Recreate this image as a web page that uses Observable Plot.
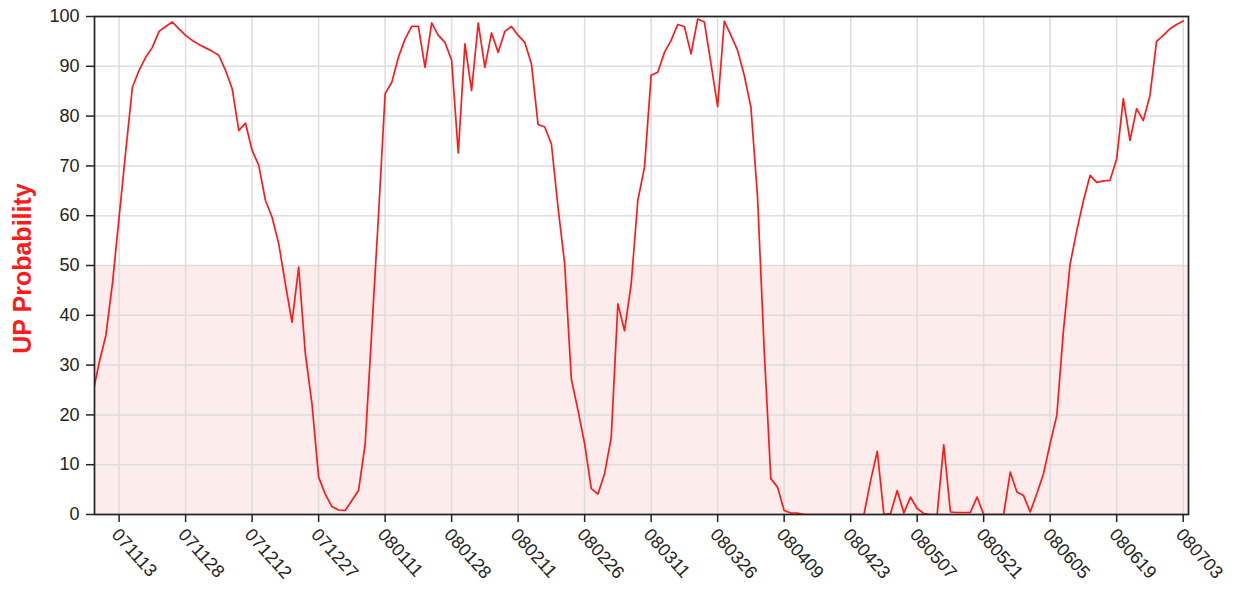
<!DOCTYPE html>
<html><head><meta charset="utf-8">
<script src="https://cdn.jsdelivr.net/npm/d3@7"></script>
<script src="https://cdn.jsdelivr.net/npm/@observablehq/plot@0.6"></script>
<style>
body{margin:0;background:#fff;}
#chart{position:relative;width:1235px;height:591px;}
</style></head><body><div id="chart"></div>
<script>
// Tick labels (trading-day index every 10 days)
const tickLabels = ["071113","071128","071212","071227","080111","080128","080211","080226","080311","080326","080409","080423","080507","080521","080605","080619","080703"];
const tickIndex = [0,10,20,30,40,50,60,70,80,90,100,110,120,130,140,150,160];
const yTicks = [0,10,20,30,40,50,60,70,80,90,100];
// UP probability per trading day, starting at index firstIndex
const firstIndex = -4;
const upProb = [
  24, 30.5, 35.9, 46.4,
  59.7, 73, 85.8, 89.2, 91.8, 93.8, 97, 98, 98.9, 97.5,
  96.2, 95.2, 94.4, 93.7, 93, 92.2, 89.2, 85.5, 77.1, 78.6,
  73.1, 70.1, 63.1, 59.7, 54.4, 46.3, 38.6, 49.7, 32.3, 22.2,
  7.5, 4.1, 1.6, 0.9, 0.8, 2.8, 4.8, 14.2, 37, 60,
  84.5, 86.8, 91.8, 95.5, 98, 98, 89.8, 98.7, 96.2, 94.8,
  91.2, 72.6, 94.5, 85.1, 98.7, 89.8, 96.7, 92.8, 97, 98,
  96.2, 94.8, 90.5, 78.3, 77.8, 74.4, 61.7, 50.3, 27.2, 20.9,
  14.2, 5.2, 4.1, 8.2, 15.5, 42.3, 36.9, 46.3, 63.1, 69.7,
  88.2, 88.8, 92.8, 95.2, 98.4, 98, 92.5, 99.5, 98.9, 90.5,
  81.9, 99.1, 96.2, 93.2, 88.2, 81.8, 63.7, 33, 7.2, 5.5,
  0.8, 0.3, 0.3, 0, 0, 0, 0, 0, 0, 0,
  0, 0, 0, 6.8, 12.7, 0, 0.2, 4.8, 0.3, 3.5,
  1.2, 0.2, 0, 0, 14, 0.5, 0.4, 0.4, 0.4, 3.5,
  0, 0, 0, 0, 8.5, 4.5, 3.8, 0.5, 4.2, 8.2,
  14.3, 19.9, 37, 50.3, 57, 63, 68.1, 66.7, 67, 67.1,
  71.4, 83.5, 75.1, 81.5, 79.1, 84.1, 95, 96.2, 97.5, 98.4,
  99.1
];
const xDomain = [-3.7, 160.8];
const band = [0, 50];
const yLabel = "UP Probability";

const data = upProb.map((v, k) => ({i: firstIndex + k, p: v}));
const labelByIndex = new Map(tickIndex.map((t, k) => [t, tickLabels[k]]));

const chart = Plot.plot({
  width: 1235, height: 591,
  marginLeft: 94, marginRight: 47, marginTop: 16, marginBottom: 77,
  style: {fontFamily: "'Liberation Sans', Arial, sans-serif", fontSize: "18px", color: "#222", background: "#fff"},
  x: {domain: xDomain},
  y: {domain: [0, 100]},
  marks: [
    Plot.rect([band], {x1: () => xDomain[0], x2: () => xDomain[1], y1: d => d[0], y2: d => d[1], fill: "#fdecec"}),
    Plot.gridX(tickIndex, {stroke: "#dddddd", strokeOpacity: 1, strokeWidth: 1.5}),
    Plot.gridY(yTicks, {stroke: "#dddddd", strokeOpacity: 1, strokeWidth: 1.5}),
    Plot.line(data, {x: "i", y: "p", stroke: "#ff1a1a", strokeWidth: 1.7, clip: true}),
    Plot.frame({stroke: "#222", strokeWidth: 1.7}),
    Plot.axisY(yTicks, {tickSize: 8, tickPadding: 7, label: null, fontSize: 18, stroke: "#222", strokeWidth: 1.5}),
    Plot.axisX(tickIndex, {tickSize: 8, tickFormat: () => "", label: null, stroke: "#222", strokeWidth: 1.5}),
    Plot.axisX(tickIndex, {tickSize: 0, tickPadding: 17, tickRotate: 48, dx: -4, tickFormat: d => labelByIndex.get(d), label: null, fontSize: 18, style: "letter-spacing:1px"}),
    Plot.text([yLabel], {frameAnchor: "left", dx: -72, dy: 3, rotate: -90, textAnchor: "middle", text: d => d, fill: "#ff1a1a", fontWeight: "bold", fontSize: 25})
  ]
});
document.getElementById("chart").appendChild(chart);
</script></body></html>
